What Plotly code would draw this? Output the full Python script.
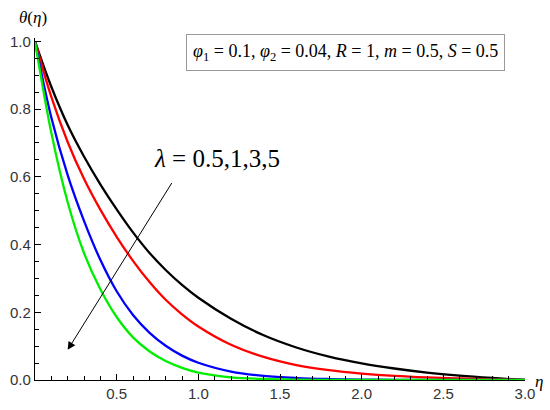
import plotly.graph_objects as go

eta = [0.0, 0.1, 0.2, 0.3, 0.4, 0.5, 0.6, 0.7, 0.8, 0.9, 1.0, 1.2, 1.4, 1.6, 1.8, 2.0, 2.2, 2.4, 2.6, 2.8, 3.0]

theta_l05 = [1.0, 0.866, 0.753, 0.660, 0.578, 0.504, 0.436, 0.376, 0.325, 0.281, 0.243, 0.181, 0.132, 0.096, 0.069, 0.049, 0.034, 0.022, 0.013, 0.006, 0.0]
theta_l1 = [1.0, 0.836, 0.703, 0.594, 0.503, 0.423, 0.352, 0.290, 0.237, 0.194, 0.158, 0.104, 0.068, 0.044, 0.029, 0.019, 0.012, 0.0075, 0.0045, 0.002, 0.0]
theta_l3 = [1.0, 0.775, 0.605, 0.470, 0.355, 0.262, 0.192, 0.140, 0.101, 0.072, 0.051, 0.025, 0.012, 0.0058, 0.0028, 0.0013, 0.0006, 0.0003, 0.0001, 0.0, 0.0]
theta_l5 = [1.0, 0.730, 0.525, 0.375, 0.268, 0.186, 0.126, 0.085, 0.056, 0.036, 0.022, 0.008, 0.003, 0.001, 0.0004, 0.0001, 0.0, 0.0, 0.0, 0.0, 0.0]

series = [
    ("λ = 0.5", theta_l05, "#000000"),
    ("λ = 1", theta_l1, "#FF0000"),
    ("λ = 3", theta_l3, "#0000FF"),
    ("λ = 5", theta_l5, "#00EE00"),
]

x_ticks = [0.5, 1.0, 1.5, 2.0, 2.5, 3.0]
y_ticks = [0.0, 0.2, 0.4, 0.6, 0.8, 1.0]

W, H = 550, 410
L, R, T, B = 35, 25, 38, 30
PW, PH = W - L - R, H - T - B


def px(x):
    return (x - L) / PW


def py(y):
    return (H - B - y) / PH


fig = go.Figure()
for name, vals, col in series:
    fig.add_trace(go.Scatter(x=eta, y=vals, mode="lines", name=name,
                             line=dict(color=col, width=2.3, shape="spline", smoothing=1.0),
                             showlegend=False, cliponaxis=True))

tickfont = dict(family="Liberation Sans, Arial, sans-serif", size=15, color="#333")
fig.update_layout(
    width=W, height=H,
    margin=dict(l=L, r=R, t=T, b=B),
    paper_bgcolor="white", plot_bgcolor="white",
    xaxis=dict(range=[0, 3.0], showgrid=False, zeroline=False, showline=True, automargin=False,
               linecolor="black", linewidth=1.2, ticks="inside", ticklen=6, tickwidth=1.2,
               tickcolor="black", tickvals=x_ticks, ticktext=[f"{v:.1f}" for v in x_ticks],
               tickfont=tickfont,
               minor=dict(ticks="inside", ticklen=3.5, tickwidth=1, dtick=0.1, tick0=0,
                          tickcolor="black", showgrid=False)),
    yaxis=dict(range=[0, 1.01], showgrid=False, zeroline=False, showline=True, automargin=False,
               linecolor="black", linewidth=1.2, ticks="inside", ticklen=6, tickwidth=1.2,
               tickcolor="black", tickvals=y_ticks, ticktext=[f"{v:.1f}" for v in y_ticks],
               tickfont=tickfont,
               minor=dict(ticks="inside", ticklen=3.5, tickwidth=1, dtick=0.05, tick0=0,
                          tickcolor="black", showgrid=False)),
)

serif = "Liberation Serif, Times New Roman, serif"


def label(x, y, text, size, **kw):
    fig.add_annotation(x=px(x), y=py(y), xref="paper", yref="paper", text=text,
                       showarrow=False, xanchor="center", yanchor="middle",
                       font=dict(family=serif, size=size, color="black"), **kw)


# axis labels
label(33, 17, "<i>θ</i>(<i>η</i>)", 17)
label(539, 381, "<i>η</i>", 17)

# parameter box
label(345, 52,
      "<i>φ</i><sub>1</sub> = 0.1, <i>φ</i><sub>2</sub> = 0.04, <i>R</i> = 1, <i>m</i> = 0.5, <i>S</i> = 0.5",
      18, bordercolor="#999999", borderwidth=1, borderpad=6, bgcolor="white")

# lambda label and arrow
label(217, 158, "<i>λ</i> = 0.5,1,3,5", 25)
fig.add_annotation(x=0.2, y=0.089, xref="x", yref="y", ax=0.843, ay=0.586, axref="x", ayref="y",
                   text="", showarrow=True, arrowhead=2, arrowsize=1.6, arrowwidth=1,
                   arrowcolor="black")

fig.write_html("out.html", config={"displayModeBar": False},
               post_script="document.body.style.margin='0';document.body.style.padding='0';")
